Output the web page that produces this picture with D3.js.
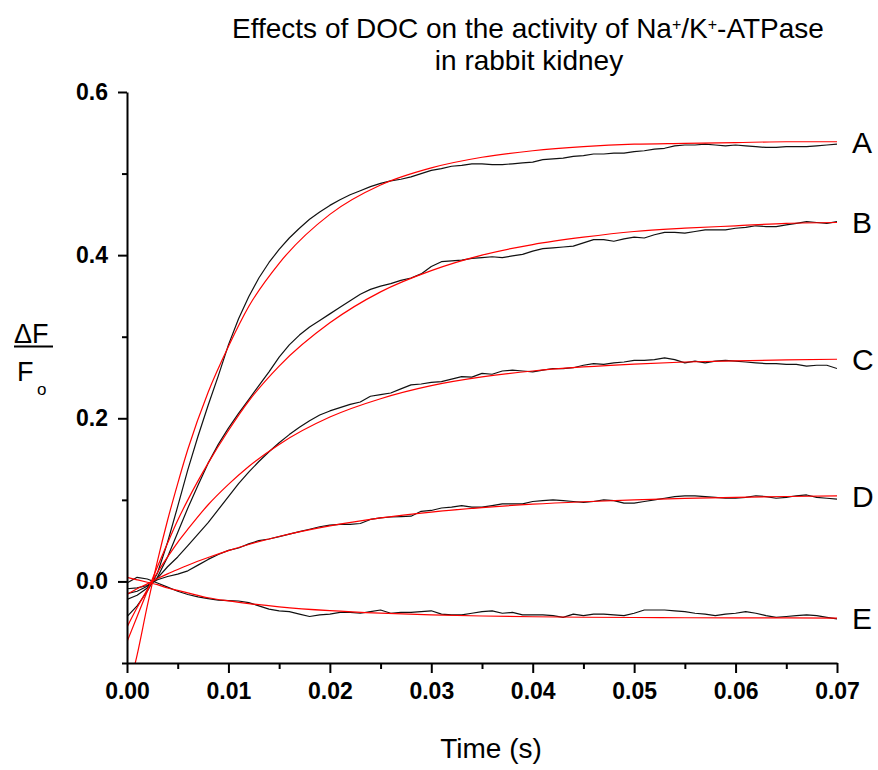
<!DOCTYPE html>
<html><head><meta charset="utf-8">
<script src="https://cdn.jsdelivr.net/npm/d3@7"></script>
<style>
body{margin:0;background:#fff;}
svg{display:block;font-family:"Liberation Sans",Arial,Helvetica,sans-serif;}
</style>
</head><body>
<svg id="chart" width="878" height="770"></svg>
<script>
// ---- data ----
const seriesNames = ["A","B","C","D","E"];
const xTickLabels = ["0.00","0.01","0.02","0.03","0.04","0.05","0.06","0.07"];
const yTickLabels = ["0.0","0.2","0.4","0.6"];
const xMajorTicks = [0,0.01,0.02,0.03,0.04,0.05,0.06,0.07];
const xMinorTicks = [0.005,0.015,0.025,0.035,0.045,0.055,0.065];
const yMajorTicks = [0,0.2,0.4,0.6];
const yMinorTicks = [-0.1,0.1,0.3,0.5];

// time of the measured traces (s)
const timeRaw = [0,0.001,0.002,0.003,0.004,0.005,0.006,0.007,0.008,0.009,
 0.010,0.011,0.012,0.013,0.014,0.015,0.016,0.017,0.018,0.019,
 0.020,0.021,0.022,0.023,0.024,0.025,0.026,0.027,0.028,0.029,
 0.030,0.031,0.032,0.033,0.034,0.035,0.036,0.037,0.038,0.039,
 0.040,0.041,0.042,0.043,0.044,0.045,0.046,0.047,0.048,0.049,
 0.050,0.051,0.052,0.053,0.054,0.055,0.056,0.057,0.058,0.059,
 0.060,0.061,0.062,0.063,0.064,0.065,0.066,0.067,0.068,0.069,0.070];

// measured traces (black), ΔF/Fo
const rawA = [-0.043,-0.030,-0.012,0.010,0.048,0.092,0.137,0.178,0.216,0.252,
 0.290,0.322,0.349,0.372,0.391,0.407,0.421,0.433,0.444,0.453,
 0.461,0.468,0.474,0.479,0.484,0.488,0.491,0.493,0.496,0.500,
 0.504,0.506,0.509,0.510,0.512,0.512,0.511,0.511,0.512,0.513,
 0.514,0.517,0.518,0.519,0.521,0.522,0.524,0.524,0.525,0.525,
 0.527,0.528,0.530,0.531,0.534,0.535,0.535,0.536,0.535,0.534,
 0.535,0.534,0.533,0.532,0.532,0.533,0.533,0.533,0.534,0.535,0.536];
const rawB = [-0.022,-0.017,-0.008,0.005,0.030,0.060,0.090,0.118,0.145,0.168,
 0.188,0.206,0.223,0.240,0.257,0.275,0.290,0.302,0.312,0.320,
 0.328,0.336,0.344,0.352,0.358,0.362,0.365,0.369,0.372,0.377,
 0.386,0.392,0.393,0.394,0.396,0.397,0.398,0.397,0.399,0.401,
 0.405,0.408,0.409,0.410,0.411,0.415,0.419,0.419,0.417,0.420,
 0.422,0.421,0.425,0.428,0.428,0.427,0.429,0.431,0.431,0.431,
 0.433,0.434,0.436,0.435,0.435,0.437,0.439,0.441,0.440,0.439,0.441];
const rawC = [-0.015,-0.012,-0.006,0.004,0.018,0.030,0.044,0.058,0.072,0.088,
 0.104,0.120,0.134,0.147,0.159,0.170,0.180,0.189,0.197,0.204,
 0.209,0.213,0.217,0.220,0.227,0.229,0.231,0.236,0.241,0.242,
 0.244,0.245,0.248,0.251,0.2505,0.255,0.254,0.258,0.259,0.258,
 0.257,0.259,0.261,0.261,0.262,0.265,0.267,0.266,0.268,0.269,
 0.271,0.271,0.272,0.274,0.272,0.268,0.270,0.268,0.270,0.271,
 0.270,0.269,0.268,0.267,0.267,0.266,0.266,0.264,0.265,0.265,0.261];
const rawD = [-0.009,-0.008,-0.005,0.002,0.006,0.009,0.013,0.020,0.027,0.033,
 0.038,0.041,0.046,0.050,0.052,0.055,0.058,0.061,0.064,0.067,
 0.069,0.070,0.070,0.071,0.076,0.078,0.079,0.0795,0.080,0.086,
 0.087,0.090,0.091,0.093,0.091,0.091,0.093,0.095,0.095,0.095,
 0.098,0.099,0.100,0.099,0.098,0.097,0.098,0.100,0.099,0.096,
 0.096,0.098,0.100,0.102,0.104,0.105,0.105,0.104,0.103,0.102,
 0.102,0.103,0.105,0.104,0.102,0.103,0.105,0.106,0.103,0.102,0.101];
const rawE = [-0.002,0.005,0.003,-0.002,-0.007,-0.012,-0.016,-0.019,-0.021,-0.023,
 -0.0235,-0.024,-0.026,-0.030,-0.034,-0.036,-0.037,-0.040,-0.043,-0.041,
 -0.040,-0.038,-0.038,-0.039,-0.037,-0.035,-0.039,-0.038,-0.038,-0.037,
 -0.036,-0.040,-0.041,-0.041,-0.039,-0.037,-0.036,-0.039,-0.038,-0.041,
 -0.041,-0.041,-0.042,-0.044,-0.040,-0.042,-0.040,-0.040,-0.041,-0.042,
 -0.039,-0.035,-0.035,-0.035,-0.036,-0.037,-0.039,-0.040,-0.042,-0.040,
 -0.039,-0.037,-0.039,-0.042,-0.044,-0.043,-0.042,-0.041,-0.042,-0.044,-0.046];

// fitted curves (red)
const timeFit = [0,0.001,0.002,0.003,0.004,0.005,0.006,0.008,0.010,0.012,0.015,
 0.020,0.025,0.030,0.035,0.040,0.045,0.050,0.055,0.060,0.065,0.070];
const fitA = [-0.14,-0.09,-0.03,0.025,0.075,0.12,0.162,0.232,0.288,0.337,0.390,
 0.450,0.486,0.507,0.520,0.528,0.533,0.536,0.537,0.538,0.539,0.539];
const fitB = [-0.074,-0.043,-0.012,0.018,0.047,0.075,0.100,0.145,0.185,0.221,0.264,
 0.317,0.355,0.381,0.400,0.413,0.422,0.429,0.433,0.436,0.439,0.440];
const fitC = [-0.056,-0.032,-0.010,0.011,0.030,0.048,0.064,0.094,0.119,0.141,0.168,
 0.2015,0.224,0.240,0.2507,0.258,0.263,0.2665,0.269,0.2705,0.2716,0.2724];
const fitD = [-0.016,-0.009,-0.003,0.0035,0.0093,0.0147,0.0199,0.0293,0.0378,0.0453,0.0551,
 0.068,0.0778,0.085,0.0905,0.0947,0.0977,0.100,0.1018,0.1031,0.1041,0.1048];
const fitE = [0.005,0.002,-0.001,-0.004,-0.008,-0.011,-0.014,-0.020,-0.0239,-0.0271,-0.0311,
 -0.0358,-0.0389,-0.041,-0.0424,-0.0433,-0.0439,-0.0442,-0.0445,-0.0447,-0.0448,-0.0449];

const rawSeries = [rawA, rawB, rawC, rawD, rawE];
const fitSeries = [fitA, fitB, fitC, fitD, fitE];

// ---- drawing ----
const svg = d3.select("#chart");
const x = d3.scaleLinear().domain([0, 0.07]).range([127, 837]);
const y = d3.scaleLinear().domain([-0.1, 0.6]).range([663, 92]);

svg.append("defs").append("clipPath").attr("id", "plotclip")
  .append("rect").attr("x", x(0)).attr("y", y(0.6) - 2)
  .attr("width", x(0.07) - x(0)).attr("height", y(-0.1) - y(0.6) + 2);

const plot = svg.append("g").attr("clip-path", "url(#plotclip)");

const rawLine = d3.line().x((d, i) => x(timeRaw[i])).y(d => y(d));
const fitLine = d3.line().x((d, i) => x(timeFit[i])).y(d => y(d)).curve(d3.curveMonotoneX);

plot.selectAll("path.raw").data(rawSeries).join("path")
  .attr("class", "raw").attr("d", rawLine)
  .attr("fill", "none").attr("stroke", "#111").attr("stroke-width", 1.2)
  .attr("stroke-linejoin", "round");

plot.selectAll("path.fit").data(fitSeries).join("path")
  .attr("class", "fit").attr("d", fitLine)
  .attr("fill", "none").attr("stroke", "#ff0000").attr("stroke-width", 1.2);

// axes
function styleAxis(g) {
  g.selectAll("path.domain").attr("stroke", "#000").attr("stroke-width", 2);
  g.selectAll(".tick line").attr("stroke", "#000").attr("stroke-width", 2);
  g.selectAll(".tick text").attr("fill", "#000")
    .style("font-size", "23px").style("font-weight", "bold")
    .style("font-family", '"Liberation Sans", Arial, sans-serif');
}

const xAxisMinor = svg.append("g").attr("transform", `translate(0,${y(-0.1)})`)
  .call(d3.axisBottom(x).tickValues(xMinorTicks).tickSize(6).tickFormat(""));
xAxisMinor.select("path.domain").remove();
styleAxis(xAxisMinor);
const xAxis = svg.append("g").attr("transform", `translate(0,${y(-0.1)})`)
  .call(d3.axisBottom(x).tickValues(xMajorTicks).tickSize(10).tickSizeOuter(0)
    .tickPadding(10).tickFormat((d, i) => xTickLabels[i]));
styleAxis(xAxis);

const yAxisMinor = svg.append("g").attr("transform", `translate(${x(0)},0)`)
  .call(d3.axisLeft(y).tickValues(yMinorTicks).tickSize(5).tickFormat(""));
yAxisMinor.select("path.domain").remove();
styleAxis(yAxisMinor);
const yAxis = svg.append("g").attr("transform", `translate(${x(0)},0)`)
  .call(d3.axisLeft(y).tickValues(yMajorTicks).tickSize(9).tickSizeOuter(0)
    .tickPadding(10).tickFormat((d, i) => yTickLabels[i]));
styleAxis(yAxis);

// series labels at the right end of each fit
svg.selectAll("text.series").data(seriesNames).join("text")
  .attr("class", "series")
  .attr("x", 852)
  .attr("y", (d, i) => y(fitSeries[i][fitSeries[i].length - 1]))
  .attr("dy", "0.36em")
  .style("font-size", "30px")
  .text(d => d);

// title
const title = svg.append("text").attr("x", 528).attr("y", 38)
  .attr("text-anchor", "middle").style("font-size", "28px");
title.append("tspan").text("Effects of DOC on the activity of Na");
title.append("tspan").attr("baseline-shift", "super").style("font-size", "16px").text("+");
title.append("tspan").text("/K");
title.append("tspan").attr("baseline-shift", "super").style("font-size", "16px").text("+");
title.append("tspan").text("-ATPase");
svg.append("text").attr("x", 529).attr("y", 70).attr("text-anchor", "middle")
  .style("font-size", "28px").text("in rabbit kidney");

// x axis title
svg.append("text").attr("x", 491).attr("y", 758).attr("text-anchor", "middle")
  .style("font-size", "28px").text("Time (s)");

// y axis title  ΔF / Fo
svg.append("text").attr("x", 14).attr("y", 343).style("font-size", "27px").text("ΔF");
svg.append("line").attr("x1", 14).attr("x2", 53).attr("y1", 346.5).attr("y2", 346.5)
  .attr("stroke", "#000").attr("stroke-width", 2);
svg.append("text").attr("x", 17).attr("y", 381).style("font-size", "27px").text("F");
svg.append("text").attr("x", 37).attr("y", 395).style("font-size", "17px").text("o");
</script>
</body></html>
